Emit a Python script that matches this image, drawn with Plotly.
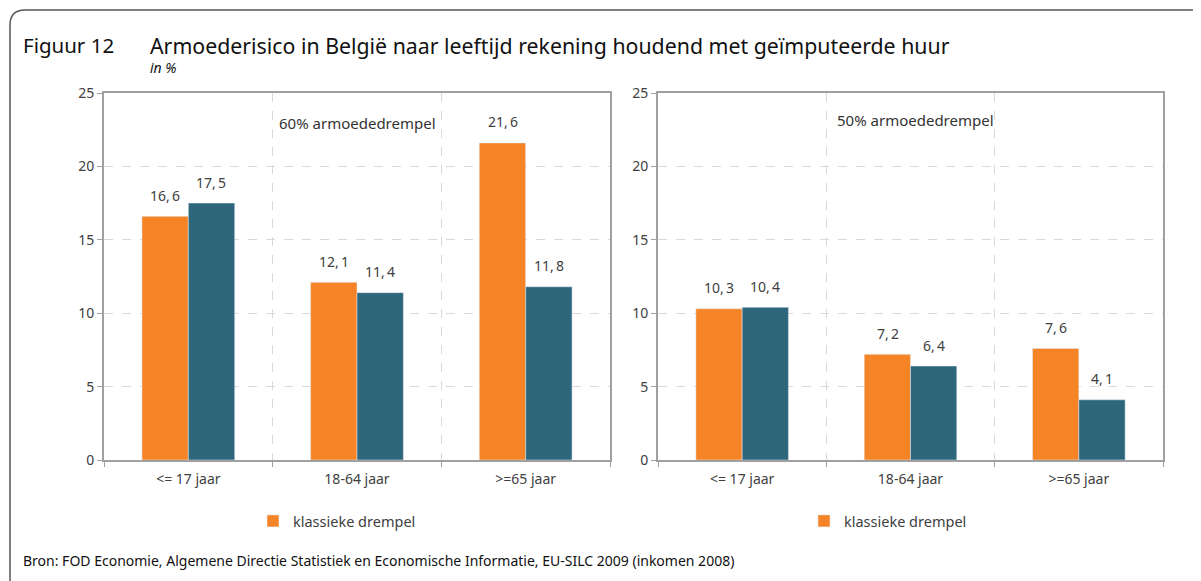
import plotly.graph_objects as go

# --- data ---
categories = ["<= 17 jaar", "18-64 jaar", ">=65 jaar"]
klassiek_60 = [16.6, 12.1, 21.6]
huur_60 = [17.5, 11.4, 11.8]
klassiek_50 = [10.3, 7.2, 7.6]
huur_50 = [10.4, 6.4, 4.1]

ORANGE = "#F58426"
TEAL = "#2E667C"
TXT = "#404040"
FONT = "Noto Sans"

W, H = 1201, 581
OFF = 8  # page body margin of the html output


def px(x):
    return (x - OFF) / W


def py(y):
    return 1 - (y - OFF) / H


fig = go.Figure()

panels = [("x", "y", klassiek_60, huur_60, "legend"),
          ("x2", "y2", klassiek_50, huur_50, "legend2")]
for xa, ya, orange_vals, teal_vals, leg in panels:
    fig.add_trace(go.Bar(x=categories, y=orange_vals, xaxis=xa, yaxis=ya,
                         name="klassieke drempel", marker_color=ORANGE,
                         legend=leg, showlegend=True))
    fig.add_trace(go.Bar(x=categories, y=teal_vals, xaxis=xa, yaxis=ya,
                         name="geïmputeerde huur", marker_color=TEAL,
                         showlegend=False))
    # value labels above the bars
    for vals, shift in ((orange_vals, -23), (teal_vals, 23)):
        for cat, v in zip(categories, vals):
            fig.add_annotation(x=cat, y=v, xref=xa, yref=ya,
                               text=f"{v:.1f}".replace(".", ",\u2009"),
                               showarrow=False, xshift=shift, yshift=21,
                               font=dict(size=14, color=TXT))

xcommon = dict(type="category", tickson="boundaries", ticks="outside", ticklen=5,
               tickcolor="#A0A0A0", showgrid=True, griddash="dash",
               gridcolor="#D9D9D9", gridwidth=1, showline=True,
               linecolor="#A0A0A0", linewidth=2, mirror=True, automargin=False,
               ticklabelstandoff=5,
               tickfont=dict(size=14, color=TXT, family=FONT))
ycommon = dict(range=[0, 25], dtick=5, ticks="outside", ticklen=5,
               tickcolor="#A0A0A0", showgrid=True, griddash="dash",
               gridcolor="#D9D9D9", gridwidth=1, showline=True,
               linecolor="#A0A0A0", linewidth=2, mirror=True, zeroline=False,
               automargin=False,
               tickfont=dict(size=14, color=TXT, family=FONT))

ydom = [py(460), py(93)]
fig.update_layout(
    width=W, height=H,
    margin=dict(l=0, r=0, t=0, b=0, pad=0),
    paper_bgcolor="white", plot_bgcolor="white",
    font=dict(family=FONT, color=TXT),
    barmode="group", bargap=0.45, bargroupgap=0,
    xaxis=dict(domain=[px(104), px(610)], anchor="y", **xcommon),
    yaxis=dict(domain=ydom, anchor="x", **ycommon),
    xaxis2=dict(domain=[px(658), px(1163)], anchor="y2", **xcommon),
    yaxis2=dict(domain=ydom, anchor="x2", **ycommon),
    legend=dict(orientation="h", x=px(253), xanchor="left", y=py(521),
                yanchor="middle", font=dict(size=14.5, color=TXT),
                itemwidth=30, bgcolor="rgba(0,0,0,0)"),
    legend2=dict(orientation="h", x=px(804), xanchor="left", y=py(521),
                 yanchor="middle", font=dict(size=14.5, color=TXT),
                 itemwidth=30, bgcolor="rgba(0,0,0,0)"),
)

annotations = [
    dict(text="Figuur 12", x=px(21), y=py(45), xanchor="left",
         font=dict(size=20.5, color="#111111")),
    dict(text="Armoederisico in België naar leeftijd rekening houdend met geïmputeerde huur",
         x=px(148), y=py(45), xanchor="left", font=dict(size=21.3, color="#111111")),
    dict(text="<i>in %</i>", x=px(148), y=py(68), xanchor="left",
         font=dict(size=14, color="#111111")),
    dict(text="60% armoededrempel", x=px(358), y=py(123), xanchor="center",
         font=dict(size=15, color="#333333")),
    dict(text="50% armoededrempel", x=px(915), y=py(120), xanchor="center",
         font=dict(size=15, color="#333333")),
    dict(text="Bron: FOD Economie, Algemene Directie Statistiek en Economische Informatie, EU-SILC 2009 (inkomen 2008)",
         x=px(21), y=py(560), xanchor="left", font=dict(size=14, color="#111111")),
]
for a in annotations:
    a.update(xref="paper", yref="paper", yanchor="middle", showarrow=False)
    fig.add_annotation(**a)

# rounded frame around the figure
r = 15
path = (f"M {px(1215)},{py(10)} L {px(10 + r)},{py(10)} "
        f"Q {px(10)},{py(10)} {px(10)},{py(10 + r)} "
        f"L {px(10)},{py(580)} Q {px(10)},{py(595)} {px(10 + r)},{py(595)} "
        f"L {px(1215)},{py(595)}")
fig.add_shape(type="path", path=path, xref="paper", yref="paper",
              line=dict(color="#555555", width=1.5))

fig.write_html("out.html")
